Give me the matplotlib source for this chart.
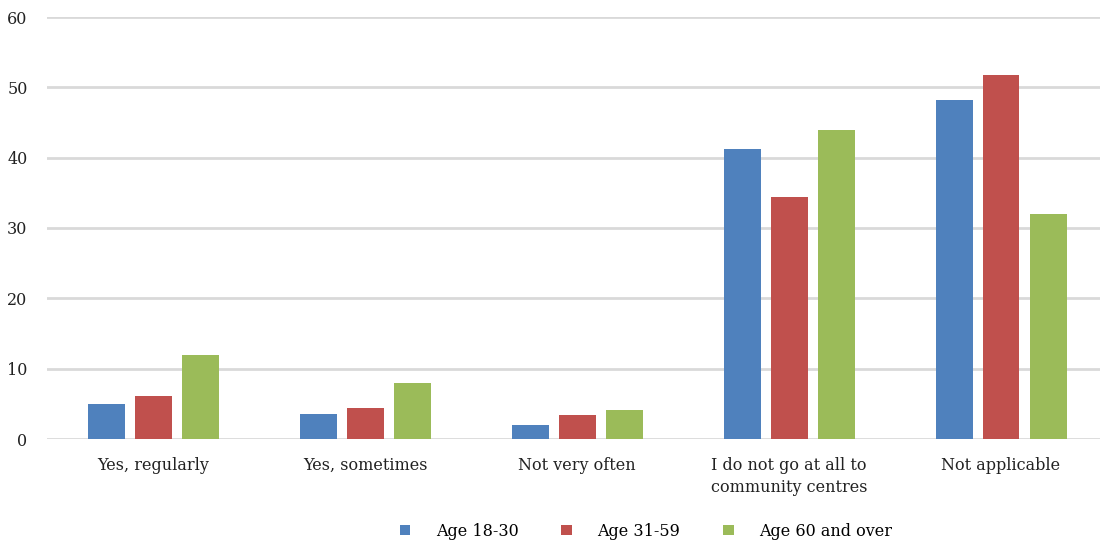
import matplotlib
matplotlib.use('Agg')
import matplotlib.pyplot as plt
import numpy as np

# ── DATA ────────────────────────────────────────────────────────────────────
categories = ['Yes, regularly', 'Yes, sometimes', 'Not very often',
              'I do not go at all to\ncommunity centres', 'Not applicable']
age_18_30 = [5.0, 3.5, 2.0, 41.2, 48.2]
age_31_59 = [6.1, 4.4, 3.4, 34.4, 51.7]
age_60_up = [12.0, 8.0, 4.1, 43.9, 32.0]
series_names = ['Age 18-30', 'Age 31-59', 'Age 60 and over']
y_ticks = [0, 10, 20, 30, 40, 50, 60]
# ─────────────────────────────────────────────────────────────────────────────

colors = ['#4F81BD', '#C0504D', '#9BBB59']
plt.rcParams['font.family'] = ['DejaVu Serif']
FS = 11.5

fig = plt.figure(figsize=(11, 5.41), dpi=100, facecolor='white')
ax = fig.add_axes([47 / 1100, (541 - 439) / 541, 1 - 47 / 1100, 422 / 541])

x = np.arange(len(categories))
bar_w = 37 / 212
step = 47 / 212
for i, (vals, name) in enumerate(zip([age_18_30, age_31_59, age_60_up], series_names)):
    ax.bar(x + (i - 1) * step, vals, width=bar_w, color=colors[i],
           label=name, zorder=3)

ax.set_ylim(0, 60)
ax.set_xlim(-0.5, 4.5 - 7 / 212)
ax.set_yticks(y_ticks)
ax.set_xticks(x)
ax.set_xticklabels(categories, fontsize=FS, color='#222222', linespacing=1.4)
ax.tick_params(axis='y', labelsize=FS, colors='#222222', length=0, pad=14)
ax.tick_params(axis='x', length=0, pad=13)

ax.grid(axis='y', color='#d9d9d9', linewidth=2, zorder=0)
for s in ax.spines.values():
    s.set_visible(False)

fig.legend(loc='center', bbox_to_anchor=(646 / 1100, 1 - 531 / 541), ncol=3,
           frameon=False, fontsize=FS, handlelength=0.65, handleheight=0.65,
           columnspacing=2.7, handletextpad=1.6)

fig.savefig('out.png', dpi=100, facecolor='white')
